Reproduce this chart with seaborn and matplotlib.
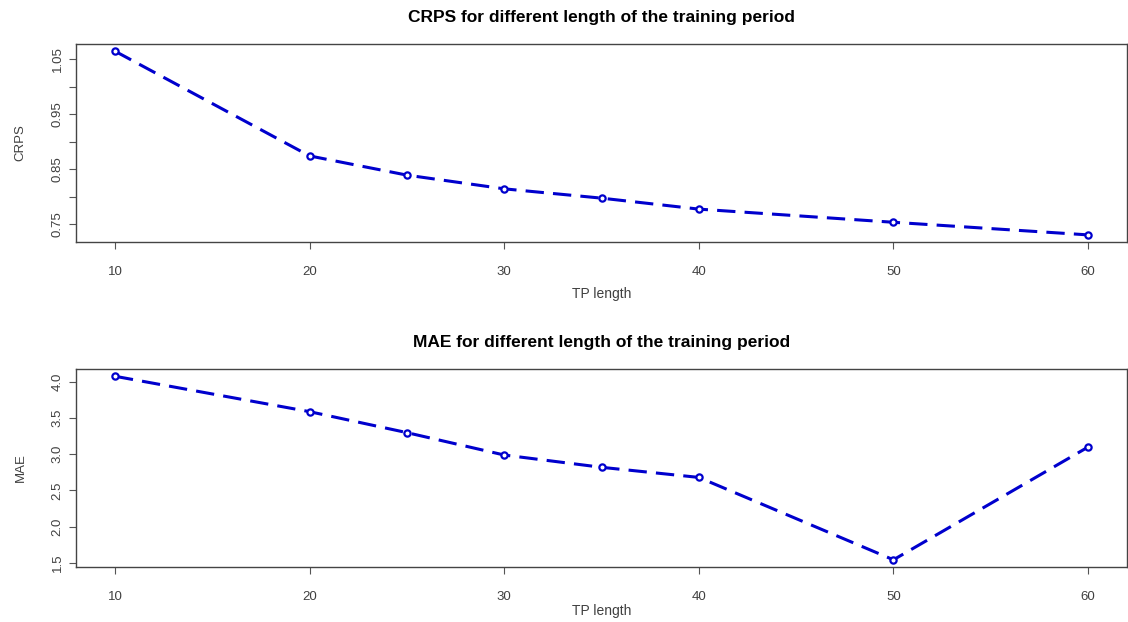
import numpy as np
import pandas as pd
import seaborn as sns
import matplotlib.pyplot as plt
from matplotlib.ticker import FixedLocator

# values
tp_length = [10, 20, 25, 30, 35, 40, 50, 60]
crps = [1.065, 0.874, 0.839, 0.814, 0.797, 0.777, 0.753, 0.730]
mae = [4.08, 3.59, 3.30, 2.99, 2.82, 2.68, 1.54, 3.10]

x_ticks = [10, 20, 30, 40, 50, 60]
crps_ticks = [0.75, 0.80, 0.85, 0.90, 0.95, 1.00, 1.05]
crps_labels = ['0.75', '', '0.85', '', '0.95', '', '1.05']
mae_ticks = [1.5, 2.0, 2.5, 3.0, 3.5, 4.0]
mae_labels = ['1.5', '2.0', '2.5', '3.0', '3.5', '4.0']

df = pd.DataFrame({'tp': tp_length, 'CRPS': crps, 'MAE': mae})

sns.set_style('white')
plt.rcParams['font.family'] = ['Liberation Sans', 'DejaVu Sans']

fig = plt.figure(figsize=(11.28, 6.22), dpi=100)
ax1 = fig.add_axes([0.0674, 0.6109, 0.9317, 0.3183])
ax2 = fig.add_axes([0.0674, 0.0884, 0.9317, 0.3183])

blue = '#0000CD'
grey = '#404040'

panels = [
    (ax1, 'CRPS', 'CRPS for different length of the training period',
     crps_ticks, crps_labels, (0.717, 1.078), 7),
    (ax2, 'MAE', 'MAE for different length of the training period',
     mae_ticks, mae_labels, (1.44, 4.18), 1),
]

for ax, col, title, yt, yl, ylim, xpad in panels:
    sns.lineplot(data=df, x='tp', y=col, ax=ax, color=blue, linewidth=2.2,
                 marker='o', markersize=4.5, markerfacecolor='white',
                 markeredgecolor=blue, markeredgewidth=1.6)
    ax.lines[0].set_dashes((6, 3))
    ax.set_xlim(8, 62)
    ax.set_ylim(*ylim)
    ax.xaxis.set_major_locator(FixedLocator(x_ticks))
    ax.set_yticks(yt)
    ax.set_yticklabels(yl, rotation=90, va='center')
    ax.tick_params(axis='both', direction='out', length=5, width=0.8,
                   color='#555555', labelcolor=grey, labelsize=9.5,
                   left=True, bottom=True, pad=4)
    ax.tick_params(axis='x', pad=12)
    for s in ax.spines.values():
        s.set_color('#444444')
        s.set_linewidth(1.0)
    ax.set_title(title, fontsize=12.5, fontweight='bold', color='black', pad=16)
    ax.set_xlabel('TP length', fontsize=10, color=grey, labelpad=xpad)
    ax.set_ylabel(col, fontsize=9.5, color=grey, labelpad=18)

plt.savefig('out.png', dpi=100)
